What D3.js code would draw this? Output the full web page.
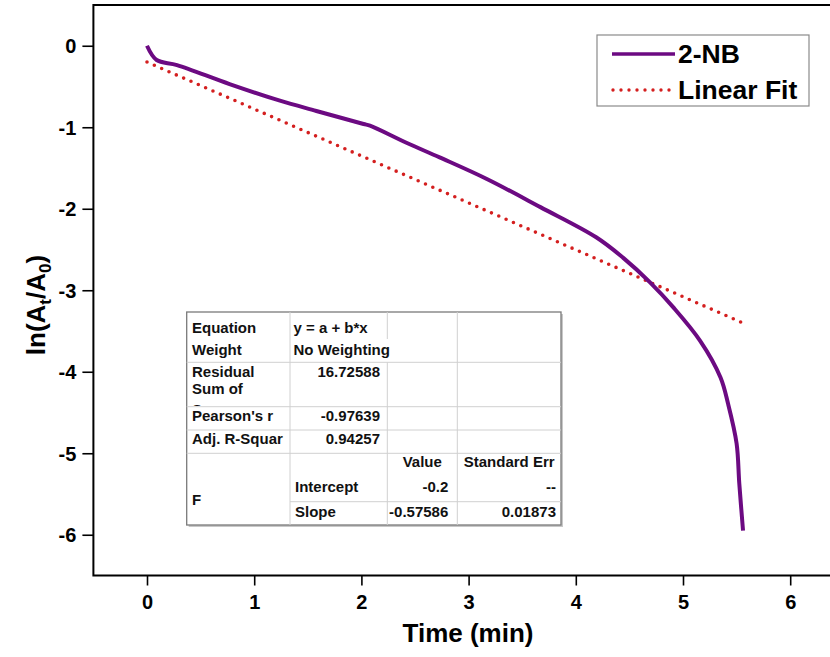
<!DOCTYPE html>
<html><head><meta charset="utf-8">
<script src="https://cdn.jsdelivr.net/npm/d3@7"></script>
<style>body{margin:0;background:#fff}svg{display:block}text{font-family:"Liberation Sans",Arial,sans-serif}</style>
</head><body><svg id="c" width="830" height="657"></svg>
<script>
// data
const timeMin = [0, 0.09, 0.28, 0.77, 1.24, 1.58, 2.02, 2.08, 2.42, 2.73, 3.17, 3.67, 4.19, 4.44, 4.69, 4.91, 5.16, 5.35, 5.42, 5.50, 5.525, 5.56];
const lnRatio = [0, -0.175, -0.237, -0.47, -0.674, -0.80, -0.96, -0.98, -1.19, -1.37, -1.635, -1.98, -2.35, -2.60, -2.90, -3.21, -3.62, -4.07, -4.39, -4.88, -5.37, -5.95];
const fitIntercept = -0.2, fitSlope = -0.57586;
const xTicks = [0,1,2,3,4,5,6];
const yTicks = [0,-1,-2,-3,-4,-5,-6];
const seriesNames = ["2-NB", "Linear Fit"];
const tableRows = [
  ["Equation","y = a + b*x","",""],
  ["Weight","No Weighting","",""],
  ["Residual Sum of Squares","16.72588","",""],
  ["Pearson's r","-0.97639","",""],
  ["Adj. R-Squar","0.94257","",""],
  ["F","","Value","Standard Err"],
  ["","Intercept","-0.2","--"],
  ["","Slope","-0.57586","0.01873"]
];

const svg = d3.select("#c");
const x = d3.scaleLinear().domain([-0.5, 6.5]).range([93.4, 843.8]);
const y = d3.scaleLinear().domain([0.5, -6.5]).range([5, 575.5]);
const purple = "#6c0a82", red = "#d41f1f";

svg.append("defs").append("clipPath").attr("id","pc").append("rect")
  .attr("x", x(-0.5)).attr("y", y(0.5)).attr("width", x(6.5)-x(-0.5)).attr("height", y(-6.5)-y(0.5));

// axes
const xa = svg.append("g").attr("transform",`translate(0,${y(-6.5)})`)
  .call(d3.axisBottom(x).tickValues(xTicks).tickFormat(d3.format("d")).tickSize(10).tickPadding(9));
const ya = svg.append("g").attr("transform",`translate(${x(-0.5)},0)`)
  .call(d3.axisLeft(y).tickValues(yTicks).tickFormat(d=>d===0?"0":"-"+Math.abs(d)).tickSize(11).tickPadding(6));
[xa,ya].forEach(g=>{
  g.select(".domain").remove();
  g.selectAll(".tick line").attr("stroke","#000").attr("stroke-width",1.6);
  g.selectAll(".tick text").attr("font-size",20).attr("font-weight","bold").attr("fill","#000");
});
ya.selectAll(".tick text").attr("dy","0.35em");

// frame
svg.append("rect").attr("x", x(-0.5)).attr("y", y(0.5)).attr("width", x(6.5)-x(-0.5)).attr("height", y(-6.5)-y(0.5))
  .attr("fill","none").attr("stroke","#000").attr("stroke-width",2);

// titles
svg.append("text").attr("x", 468).attr("y", 642).attr("text-anchor","middle")
  .attr("font-size",26).attr("font-weight","bold").text("Time (min)");
const yt = svg.append("text").attr("transform","translate(45,305) rotate(-90)").attr("text-anchor","middle")
  .attr("font-size",26).attr("font-weight","bold");
yt.append("tspan").text("ln(A");
yt.append("tspan").attr("font-size",17).attr("dy",6).text("t");
yt.append("tspan").attr("dy",-6).text("/A");
yt.append("tspan").attr("font-size",17).attr("dy",6).text("0");
yt.append("tspan").attr("dy",-6).text(")");

const plot = svg.append("g").attr("clip-path","url(#pc)");
// fit line
const fitX = [timeMin[0], timeMin[timeMin.length-1]];
plot.append("path").datum(fitX.map(t=>[t, fitIntercept + fitSlope*t]))
  .attr("d", d3.line().x(d=>x(d[0])).y(d=>y(d[1])))
  .attr("fill","none").attr("stroke",red).attr("stroke-width",3.6)
  .attr("stroke-linecap","round").attr("stroke-dasharray","0 8");
// data line
plot.append("path").datum(timeMin.map((t,i)=>[t, lnRatio[i]]))
  .attr("d", d3.line().x(d=>x(d[0])).y(d=>y(d[1])).curve(d3.curveCatmullRom.alpha(0.5)))
  .attr("fill","none").attr("stroke",purple).attr("stroke-width",4).attr("stroke-linejoin","round");

// legend
const lg = svg.append("g");
lg.append("rect").attr("x",597).attr("y",35).attr("width",212).attr("height",71)
  .attr("fill","#fff").attr("stroke","#8a8a8a").attr("stroke-width",1.2);
lg.append("line").attr("x1",612).attr("x2",675).attr("y1",54).attr("y2",54).attr("stroke",purple).attr("stroke-width",3.6);
lg.append("line").attr("x1",613).attr("x2",675).attr("y1",90).attr("y2",90).attr("stroke",red).attr("stroke-width",3.4)
  .attr("stroke-linecap","round").attr("stroke-dasharray","0 8");
lg.append("text").attr("x",678).attr("y",63).attr("font-size",26.5).attr("font-weight","bold").text(seriesNames[0]);
lg.append("text").attr("x",678).attr("y",99).attr("font-size",26.5).attr("font-weight","bold").text(seriesNames[1]);

// table
const cx = [186.7, 290, 387.3, 457.3, 561];
const tb = svg.append("g");
tb.append("rect").attr("x",cx[0]+2).attr("y",314).attr("width",cx[4]-cx[0]).attr("height",525-312)
  .attr("fill","#c8c8c8");
tb.append("rect").attr("x",cx[0]).attr("y",312).attr("width",cx[4]-cx[0]).attr("height",525-312)
  .attr("fill","#fff").attr("stroke","#7a7a7a").attr("stroke-width",1.3);
const lineC = "#d0d0d0";
[362.3, 406.7, 430, 453.3].forEach(yy=>tb.append("line").attr("x1",cx[0]).attr("x2",cx[4]).attr("y1",yy).attr("y2",yy).attr("stroke",lineC));
tb.append("line").attr("x1",cx[1]).attr("x2",cx[4]).attr("y1",501.7).attr("y2",501.7).attr("stroke",lineC);
tb.append("line").attr("x1",cx[1]).attr("x2",cx[1]).attr("y1",312).attr("y2",525).attr("stroke",lineC);
tb.append("line").attr("x1",cx[2]).attr("x2",cx[2]).attr("y1",312).attr("y2",339).attr("stroke",lineC);
tb.append("line").attr("x1",cx[2]).attr("x2",cx[2]).attr("y1",362.3).attr("y2",525).attr("stroke",lineC);
tb.append("line").attr("x1",cx[3]).attr("x2",cx[3]).attr("y1",312).attr("y2",525).attr("stroke",lineC);
tb.append("clipPath").attr("id","rc").append("rect").attr("x",cx[0]).attr("y",362.3).attr("width",cx[1]-cx[0]).attr("height",406-362.3);

const fs = 15;
function t(xx, yy, s, anchor){ return tb.append("text").attr("x",xx).attr("y",yy).attr("font-size",fs).attr("font-weight","bold")
  .attr("fill","#111").attr("text-anchor",anchor||"start").text(s); }
t(192, 332.7, tableRows[0][0]); t(293.5, 332.7, tableRows[0][1]);
t(192, 355, tableRows[1][0]); t(293.5, 355, tableRows[1][1]);
const rsT = tb.append("g").attr("clip-path","url(#rc)");
[["Residual",376.7],["Sum of",394.3],["Squares",415]].forEach((p)=>{
  rsT.append("text").attr("x",192).attr("y",p[1]).attr("font-size",fs).attr("font-weight","bold").attr("fill","#111").text(p[0]);
});
t(380, 376.7, tableRows[2][1], "end");
t(192, 421, tableRows[3][0]); t(380, 421, tableRows[3][1], "end");
t(192, 444, tableRows[4][0]); t(380, 444, tableRows[4][1], "end");
t(192, 505, tableRows[5][0]);
t((cx[2]+cx[3])/2, 467, tableRows[5][2], "middle");
t((cx[3]+cx[4])/2, 467, tableRows[5][3], "middle");
t(295, 492, tableRows[6][1]); t(448.3, 492, tableRows[6][2], "end"); t(556, 492, tableRows[6][3], "end");
t(295, 517, tableRows[7][1]); t(448.3, 517, tableRows[7][2], "end"); t(556, 517, tableRows[7][3], "end");
</script></body></html>
